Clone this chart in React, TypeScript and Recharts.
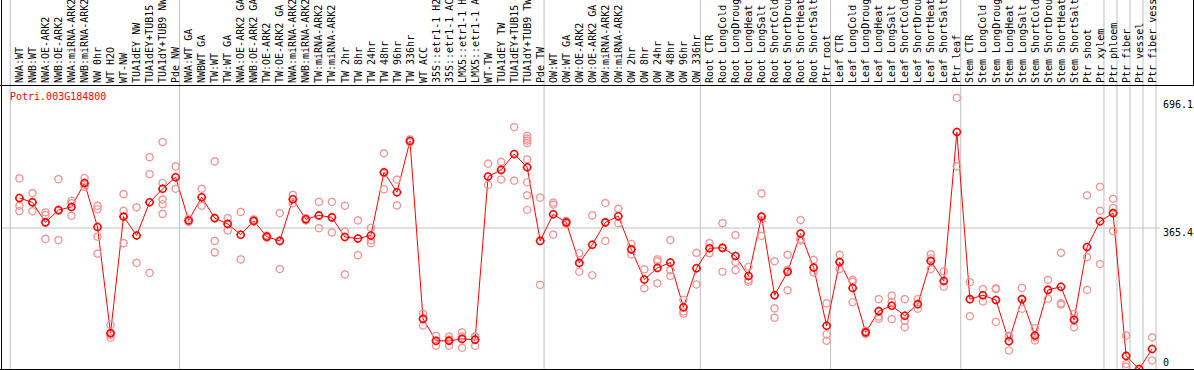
import { ComposedChart, Line, Scatter, XAxis, YAxis, ReferenceLine } from "recharts";

const title = "Potri.003G184800";

// sample names as shown (cut to 14 characters, like the reference header)
const samples = [
  "NWA:WT", "NWB:WT", "NWA:OE-ARK2", "NWB:OE-ARK2", "NWA:miRNA-ARK2", "NWB:miRNA-ARK2", "NW 0hr", "WT H2O", "WT-NW",
  "TUA1dEY NW", "TUA1dEY+TUB15", "TUA1dY+TUB9 NW", "Pde NW",
  "NWA:WT GA", "NWBWT GA", "TW:WT", "TW:WT GA", "NWA:OE-ARK2 GA", "NWB:OE-ARK2 GA", "TW:OE-ARK2", "TW:OE-ARK2 GA",
  "NWA:miRNA-ARK2", "NWB:miRNA-ARK2", "TW:miRNA-ARK2", "TW:miRNA-ARK2", "TW 2hr", "TW 8hr", "TW 24hr", "TW 48hr",
  "TW 96hr", "TW 336hr", "WT ACC", "35S::etr1-1 H2", "35S::etr1-1 AC", "LMX5::etr1-1 H", "LMX5::etr1-1 A", "WT-TW",
  "TUA1dEY TW", "TUA1dEY+TUB15", "TUA1dY+TUB9 TW", "Pde TW",
  "OW:WT", "OW:WT GA", "OW:OE-ARK2", "OW:OE-ARK2 GA", "OW:miRNA-ARK2", "OW:miRNA-ARK2", "OW 2hr", "OW 8hr", "OW 24hr",
  "OW 48hr", "OW 96hr", "OW 336hr",
  "Root CTR", "Root LongCold", "Root LongDroug", "Root LongHeat", "Root LongSalt", "Root ShortCold", "Root ShortDrou",
  "Root ShortHeat", "Root ShortSalt", "Ptr root",
  "Leaf CTR", "Leaf LongCold", "Leaf LongDroug", "Leaf LongHeat", "Leaf LongSalt", "Leaf ShortCold", "Leaf ShortDrou",
  "Leaf ShortHeat", "Leaf ShortSalt", "Ptr leaf",
  "Stem CTR", "Stem LongCold", "Stem LongDroug", "Stem LongHeat", "Stem LongSalt", "Stem ShortCold", "Stem ShortDrou",
  "Stem ShortHeat", "Stem ShortSalt", "Ptr shoot", "Ptr xylem",
  "Ptr phloem", "Ptr fiber", "Ptr vessel", "Ptr fiber vess",
];

// index where each sample group begins (last entry = end)
const groupStarts = [0, 13, 41, 53, 63, 73, 84, 85, 86, 87, 88];

const means = [
  443, 432, 380, 412, 420, 482, 368, 93, 395, 346, 432, 467, 497,
  385, 445, 391, 376, 348, 384, 343, 332, 440, 388, 398, 393, 342, 338, 346, 510, 458, 591, 130, 73, 73, 78, 76, 499, 516, 557, 523, 332,
  401, 380, 275, 322, 380, 396, 310, 232, 262, 276, 160, 261,
  313, 314, 293, 241, 395, 191, 252, 351, 263, 112,
  277, 210, 95, 150, 164, 138, 168, 280, 228, 614,
  181, 191, 179, 72, 181, 87, 205, 213, 127, 316, 383,
  404, 34, 0, 52,
];

const replicates = [
  [494, 423, 409], [456, 432, 409], [406, 399, 337], [492, 410, 334], [436, 430, 397], [495, 478, 472], [423, 414, 343, 299],
  [114, 88, 81], [453, 410, 326], [419, 275], [549, 505, 249], [588, 482, 439, 427, 402], [525, 467],
  [390, 381], [467, 423], [538, 332, 302], [391, 359], [407, 284], [388, 381], [346, 340], [404, 259], [451, 430], [391, 385],
  [433, 365], [433, 354], [423, 356, 245], [385, 295], [366, 334, 326], [559, 507, 466], [491, 424], [595, 587], [143, 113],
  [86, 60], [84, 76, 60], [95, 84, 55], [84, 84, 60], [532, 477], [537, 491], [627, 488],
  [604, 597, 592, 585, 543, 484, 450, 412], [444, 218],
  [431, 426, 348], [384, 376], [300, 252], [398, 243], [430, 332], [415, 378], [324, 297], [258, 209], [279, 284, 222],
  [334, 256, 241], [179, 149, 143], [301, 219],
  [326, 300], [378, 252], [347, 277, 256], [265, 231, 226], [455, 386, 345], [279, 157, 133], [296, 257, 204], [386, 337, 333],
  [283, 250], [170, 90, 73],
  [296, 259], [231, 226, 173], [99, 91], [181, 136, 130], [190, 174, 129], [181, 125, 108], [181, 156], [297, 287, 259],
  [253, 213], [703, 525],
  [225, 137], [207, 175], [209, 207, 122], [84, 86, 48], [210, 156], [106, 82, 74], [231, 182], [301, 170, 167],
  [142, 131, 108], [450, 290, 205], [472, 410, 272],
  [441, 417, 357], [87, 13, 6], [0, 0], [82, 22],
];

const yTicks = [0, 365.4, 696.1];

const lineData = means.map((v, i) => ({ x: i, mean: v }));
const repData = replicates.flatMap((arr, i) => arr.map((v) => ({ x: i, y: v })));
const sampleIdx = samples.map((_, i) => i);

const MONO = "'DejaVu Sans Mono', monospace";

function Ring({ cx, cy, color, width, spike }: any) {
  if (cx == null || cy == null) return null;
  const r = 3.5;
  return (
    <g>
      <circle cx={cx} cy={cy} r={r} fill="none" stroke={color} strokeWidth={width} />
      <path
        d={`M${cx},${cy - r - spike}v${spike}M${cx},${cy + r}v${spike}M${cx - r - spike},${cy}h${spike}M${cx + r},${cy}h${spike}`}
        stroke={color}
        strokeWidth={1}
      />
    </g>
  );
}

function SampleTick({ x, payload }: any) {
  const i = payload.value;
  return (
    <g transform={`translate(${x},83) rotate(-90)`}>
      <text x={0} y={0} dy={3.6} fontFamily={MONO} fontSize={10} fill="#000" textAnchor="start">
        {samples[i]}
      </text>
    </g>
  );
}

function ValueTick({ y, payload }: any) {
  const off = payload.value === 0 ? -3.5 : 8;
  return (
    <text x={1163} y={y + off} fontFamily={MONO} fontSize={10} fill="#000" textAnchor="start">
      {payload.value}
    </text>
  );
}

export default function App() {
  return (
    <div style={{ position: "absolute", left: 0, top: 0, width: 1194, height: 370, background: "#fff", overflow: "hidden" }}>
      <ComposedChart width={1194} height={370} data={lineData} margin={{ top: 1, right: 0, bottom: 1, left: 1 }}>
        <XAxis
          dataKey="x"
          type="number"
          orientation="top"
          domain={[-1.413, 87.604]}
          allowDataOverflow
          ticks={sampleIdx}
          interval={0}
          height={85}
          tick={<SampleTick />}
          tickLine={false}
          axisLine={false}
        />
        <YAxis
          type="number"
          orientation="right"
          width={34}
          domain={[0, 733.4]}
          allowDataOverflow
          ticks={yTicks}
          interval={0}
          tick={<ValueTick />}
          tickLine={false}
          axisLine={false}
        />
        <ReferenceLine y={365.4} stroke="#c0c0c0" strokeWidth={1} />
        {groupStarts.map((k) => (
          <ReferenceLine
            key={k}
            segment={[{ x: k - 0.7, y: 0 }, { x: k - 0.7, y: 960 }]}
            ifOverflow="visible"
            stroke="#c0c0c0"
            strokeWidth={1}
          />
        ))}
        <Scatter
          data={repData}
          dataKey="y"
          isAnimationActive={false}
          shape={(p: any) => <Ring cx={p.cx} cy={p.cy} color="#f09494" width={1.2} spike={0.8} />}
        />
        <Line
          type="linear"
          dataKey="mean"
          stroke="#ff0000"
          strokeWidth={1}
          isAnimationActive={false}
          dot={(p: any) => <Ring key={p.index} cx={p.cx} cy={p.cy} color="#ff0000" width={1.6} spike={1} />}
          activeDot={false}
        />
      </ComposedChart>
      <div style={{ position: "absolute", left: 10, top: 91, fontFamily: MONO, fontSize: 10, lineHeight: "12px", color: "#ff0000" }}>
        {title}
      </div>
      <div style={{ position: "absolute", left: 1, top: 0, width: 1, height: 370, background: "#000" }} />
      <div style={{ position: "absolute", left: 0, top: 85, width: 1194, height: 1, background: "#000" }} />
      <div style={{ position: "absolute", left: 1193, top: 0, width: 1, height: 86, background: "#000" }} />
      <div style={{ position: "absolute", left: 0, top: 369, width: 1194, height: 1, background: "#000" }} />
    </div>
  );
}
